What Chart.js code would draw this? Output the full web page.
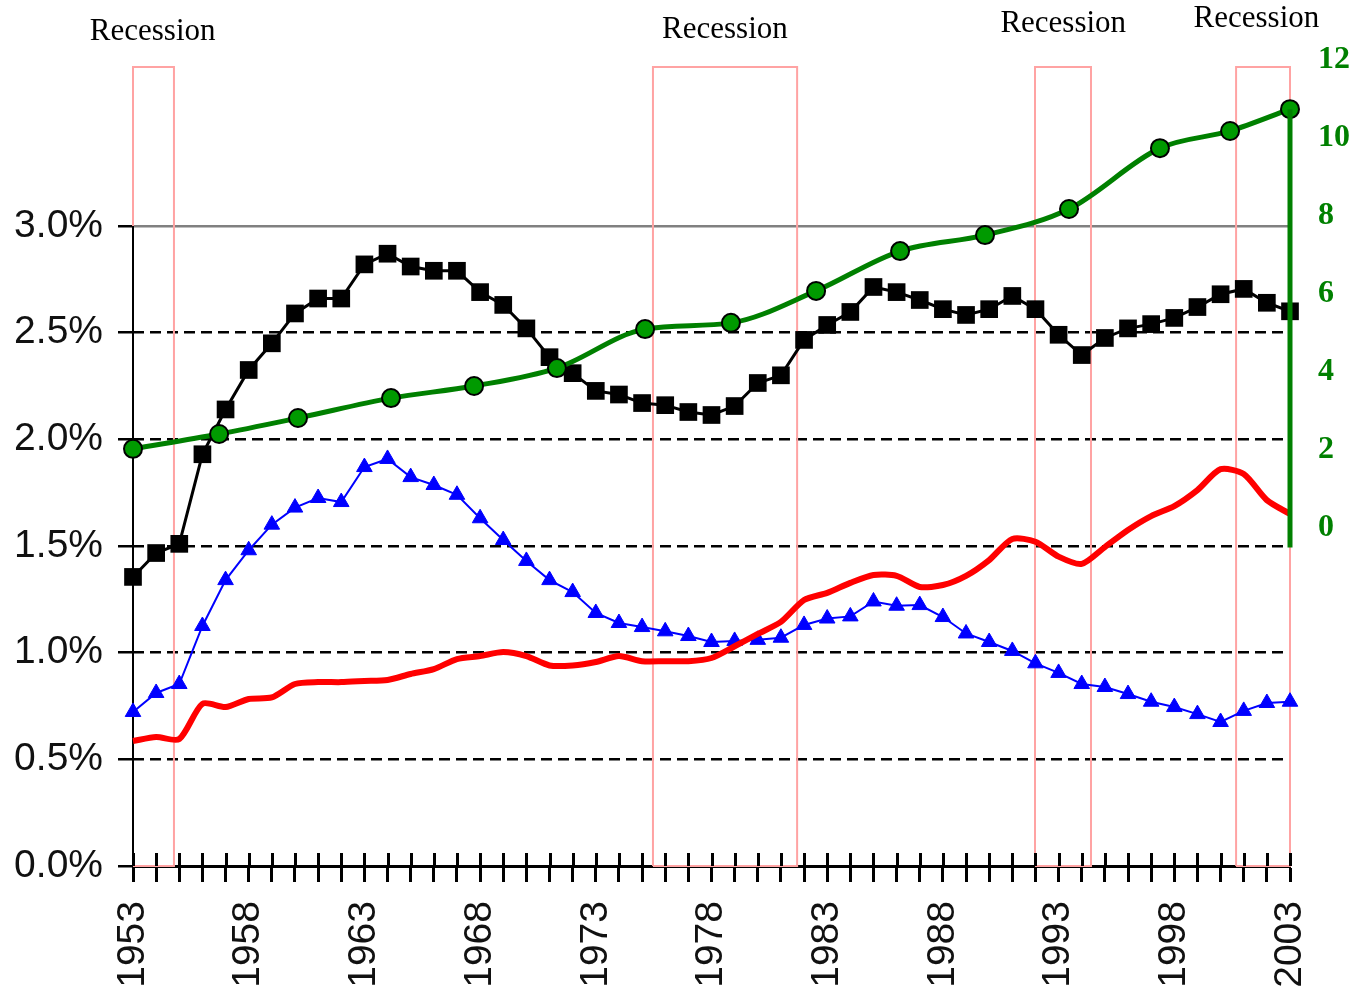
<!DOCTYPE html>
<html>
<head>
<meta charset="utf-8">
<script src="https://cdn.jsdelivr.net/npm/chart.js@4.4.1/dist/chart.umd.min.js"></script>
<style>
  html, body { margin: 0; padding: 0; background: #ffffff; }
  #wrap { width: 1353px; height: 988px; }
</style>
</head>
<body>
<div id="wrap"><canvas id="c" width="1353" height="988"></canvas></div>
<script>
// ---------- data ----------
const years = [];
for (let y = 1953; y <= 2003; y++) years.push(y);

const blackSeries = [1.355,1.467,1.51,1.93,2.14,2.325,2.45,2.59,2.66,2.66,
  2.82,2.87,2.81,2.79,2.79,2.69,2.63,2.52,2.385,2.31,
  2.227,2.21,2.17,2.16,2.128,2.114,2.156,2.264,2.30,2.466,
  2.536,2.597,2.714,2.69,2.653,2.61,2.583,2.61,2.672,2.61,
  2.49,2.395,2.475,2.52,2.54,2.569,2.62,2.68,2.705,2.64,2.60];

const blueSeries = [0.722,0.811,0.853,1.125,1.34,1.48,1.60,1.68,1.725,1.706,
  1.87,1.908,1.823,1.786,1.74,1.63,1.528,1.43,1.34,1.284,
  1.186,1.139,1.12,1.10,1.078,1.05,1.055,1.06,1.07,1.13,
  1.16,1.17,1.24,1.22,1.223,1.167,1.09,1.05,1.008,0.95,
  0.905,0.853,0.839,0.806,0.77,0.745,0.712,0.675,0.727,0.764,0.77];

const redSeries = [0.586,0.605,0.595,0.76,0.745,0.783,0.79,0.853,0.862,0.862,
  0.867,0.872,0.90,0.923,0.97,0.984,1.003,0.984,0.94,0.94,
  0.956,0.984,0.96,0.96,0.96,0.975,1.03,1.088,1.144,1.247,
  1.28,1.327,1.364,1.36,1.308,1.317,1.36,1.434,1.533,1.52,
  1.45,1.416,1.495,1.575,1.64,1.687,1.762,1.86,1.837,1.715,1.65];

const greenYears = [1953,1956.72,1960.13,1964.15,1967.74,1971.32,1975.13,1978.84,
  1982.52,1986.15,1989.82,1993.45,1997.38,2000.41,2003];
const greenValues = [2.03,2.41,2.82,3.33,3.64,4.10,5.10,5.26,6.08,7.10,7.51,8.18,9.74,10.18,10.74];

const recessionStart = [1953, 1975.47, 1991.98, 2000.67];
const recessionEnd   = [1954.77, 1981.70, 1994.40, 2003];
const recessionTop = 3.745;
const recessionLabel = "Recession";

const leftTicks = [0, 0.5, 1.0, 1.5, 2.0, 2.5, 3.0];
const rightTicks = [0, 2, 4, 6, 8, 10, 12];
const xLabelStep = 5;

// ---------- build datasets ----------
const xy = (xs, ys) => xs.map((x, i) => ({ x: x, y: ys[i] }));

const recessionSets = recessionStart.map((s, i) => ({
  label: 'rec' + i,
  data: [{x:s,y:0},{x:s,y:recessionTop},{x:recessionEnd[i],y:recessionTop},{x:recessionEnd[i],y:0},{x:s,y:0}],
  borderColor: '#ffa3a3',
  borderWidth: 2,
  pointRadius: 0,
  tension: 0,
  yAxisID: 'y',
  order: 10,
  clip: false
}));

const datasets = [
  ...recessionSets,
  {
    label: 'leftAxis',
    data: [{x:1953,y:0},{x:1953,y:3.0}],
    borderColor: '#000', borderWidth: 2, pointRadius: 0, yAxisID: 'y', order: 9, clip: false
  },
  {
    label: 'blue',
    data: xy(years, blueSeries),
    borderColor: '#0000ff', backgroundColor: '#0000ff',
    borderWidth: 2, pointStyle: 'triangle', pointRadius: 9, pointBorderWidth: 1,
    yAxisID: 'y', order: 5, clip: false, tension: 0
  },
  {
    label: 'black',
    data: xy(years, blackSeries),
    borderColor: '#000', backgroundColor: '#000',
    borderWidth: 3, pointStyle: 'rect', pointRadius: 12.5, pointBorderWidth: 0,
    yAxisID: 'y', order: 4, clip: false, tension: 0
  },
  {
    label: 'red',
    data: xy(years, redSeries),
    borderColor: '#ff0000', borderWidth: 6, pointRadius: 0,
    yAxisID: 'y', order: 3, clip: false, tension: 0.25
  },
  {
    label: 'green',
    data: xy(greenYears, greenValues),
    borderColor: '#008000', backgroundColor: '#009a00',
    borderWidth: 5, pointRadius: 9, pointBorderColor: '#000', pointBorderWidth: 2,
    cubicInterpolationMode: 'monotone',
    yAxisID: 'y2', order: 2, clip: false
  },
  {
    label: 'greenAxis',
    data: [{x:2003,y:-0.5},{x:2003,y:greenValues[greenValues.length-1]}],
    borderColor: '#008000', borderWidth: 5, pointRadius: 0,
    yAxisID: 'y2', order: 1, clip: false
  }
];

// ---------- plugins ----------
const crossTicks = {
  id: 'crossTicks',
  afterDraw(chart) {
    const xs = chart.scales.x, ctx = chart.ctx, b = chart.chartArea.bottom;
    ctx.save();
    ctx.strokeStyle = '#000'; ctx.lineWidth = 3;
    xs.ticks.forEach(t => {
      const px = Math.round(xs.getPixelForValue(t.value)) + 0.5;
      ctx.beginPath(); ctx.moveTo(px, b - 13); ctx.lineTo(px, b); ctx.stroke();
    });
    ctx.restore();
  }
};

const recessionText = {
  id: 'recessionText',
  afterDraw(chart, args, opts) {
    const xs = chart.scales.x, ctx = chart.ctx;
    ctx.save();
    ctx.font = '31px "Liberation Serif", "Times New Roman", serif';
    ctx.fillStyle = '#000';
    ctx.textAlign = 'center';
    ctx.textBaseline = 'middle';
    opts.centers.forEach((c, i) => {
      ctx.fillText(recessionLabel, xs.getPixelForValue(c), opts.tops[i]);
    });
    ctx.restore();
  }
};

// ---------- chart ----------
new Chart(document.getElementById('c'), {
  type: 'line',
  data: { datasets },
  plugins: [crossTicks, recessionText],
  options: {
    responsive: false,
    animation: false,
    devicePixelRatio: 1,
    layout: { padding: { top: 60, left: 0, right: 0, bottom: 0 } },
    plugins: {
      legend: { display: false },
      tooltip: { enabled: false },
      recessionText: { centers: [1953.85, 1978.58, 1993.2, 2001.55], tops: [32, 30, 24, 19] }
    },
    scales: {
      x: {
        type: 'linear', position: 'bottom', min: 1953, max: 2003,
        afterBuildTicks: s => { s.ticks = years.map(v => ({ value: v })); },
        afterFit: s => { s.height = 122; s.paddingLeft = 0; s.paddingRight = 0; },
        ticks: {
          autoSkip: false, minRotation: 90, maxRotation: 90, padding: 19,
          color: '#111',
          font: { family: '"Liberation Sans", Arial, sans-serif', size: 39 },
          callback: v => ((v - 1953) % xLabelStep === 0 ? String(v) : '')
        },
        grid: { drawOnChartArea: false, tickLength: 16, tickWidth: 3, tickColor: '#000' },
        border: { display: true, color: '#000', width: 3 }
      },
      y: {
        type: 'linear', position: 'left', min: 0, max: 3.778,
        afterBuildTicks: s => { s.ticks = leftTicks.map(v => ({ value: v })); },
        afterFit: s => { s.width = 133; },
        ticks: {
          padding: 15, color: '#111',
          font: { family: '"Liberation Sans", Arial, sans-serif', size: 39 },
          callback: v => Number(v).toFixed(1) + '%'
        },
        grid: {
          color: c => (c.tick && Math.abs(c.tick.value - 3) < 1e-6 ? '#808080' : '#000'),
          lineWidth: 2.5, tickLength: 15, tickColor: '#000', tickWidth: 2.5
        },
        border: {
          display: false,
          dash: c => (c.tick && (Math.abs(c.tick.value - 3) < 1e-6 || Math.abs(c.tick.value) < 1e-6) ? [] : [11, 6])
        }
      },
      y2: {
        type: 'linear', position: 'right', min: -8.667, max: 12,
        afterBuildTicks: s => { s.ticks = rightTicks.map(v => ({ value: v })); },
        afterFit: s => { s.width = 63; s.paddingTop = 0; s.paddingBottom = 0; },
        ticks: {
          padding: 28, color: '#008000',
          font: { family: '"Liberation Serif", "Times New Roman", serif', size: 32, weight: 'bold' }
        },
        grid: { drawOnChartArea: false, drawTicks: false },
        border: { display: false }
      }
    }
  }
});
</script>
</body>
</html>
